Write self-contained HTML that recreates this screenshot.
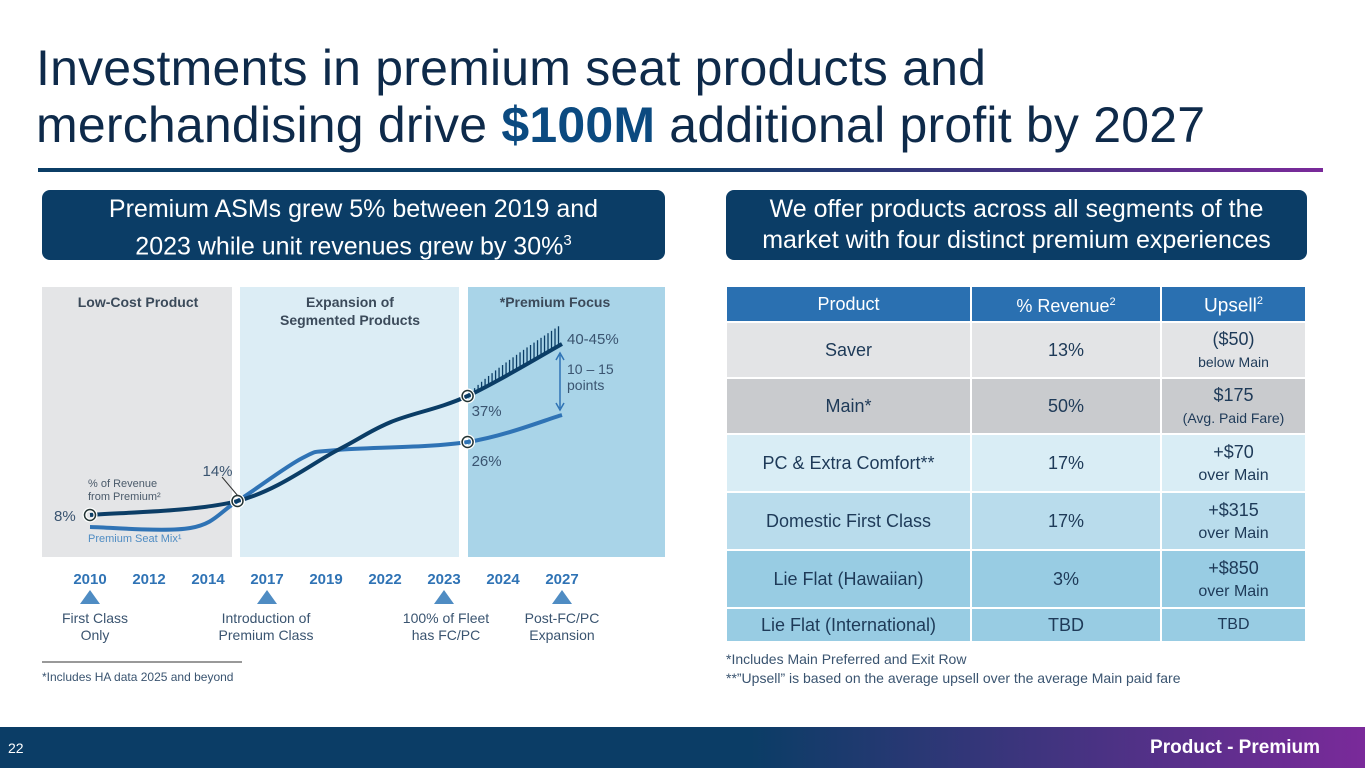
<!DOCTYPE html>
<html><head><meta charset="utf-8"><style>
*{margin:0;padding:0;box-sizing:border-box}
body{width:1365px;height:768px;position:relative;background:#fff;font-family:"Liberation Sans",sans-serif;overflow:hidden;color:#1d3a5c}
.a{position:absolute}
.t{font-size:50px;color:#0e2a4a;line-height:57px;left:36px;top:40px;letter-spacing:0.2px}
.pill{background:#0b3d66;color:#fff;border-radius:8px;text-align:center;font-size:25px;line-height:31px;padding-top:4px}
table{border-collapse:separate;border-spacing:2px;position:absolute;left:725px;top:285px;width:582px}
td{text-align:center;font-size:18px;color:#1e3a58;line-height:22px}
.sm{font-size:14px;line-height:18px}
</style></head><body>
<div class="a t">Investments in premium seat products and<br>merchandising drive <b style="color:#0b4a80">$100M</b> additional profit by 2027</div>
<div class="a" style="left:38px;top:168px;width:1285px;height:4px;background:linear-gradient(90deg,#0b3d66,#0b3d66 50%,#7a2a9a)"></div>
<div class="a pill" style="left:42px;top:190px;width:623px;height:70px">Premium ASMs grew 5% between 2019 and<br>2023 while unit revenues grew by 30%<sup style="font-size:15px">3</sup></div>
<div class="a pill" style="left:726px;top:190px;width:581px;height:70px">We offer products across all segments of the<br>market with four distinct premium experiences</div>

<svg class="a" style="left:0;top:0" width="700" height="700">
<rect x="42" y="287" width="190" height="270" fill="#e4e5e7"/>
<rect x="240" y="287" width="219" height="270" fill="#dcedf5"/>
<rect x="468" y="287" width="197" height="270" fill="#a9d4e8"/>
<g font-size="14" font-weight="bold" fill="#3b4a5a" text-anchor="middle">
<text x="138" y="307">Low-Cost Product</text>
<text x="350" y="307">Expansion of</text><text x="350" y="325">Segmented Products</text>
<text x="555" y="307">*Premium Focus</text></g>
<g id="hatch"></g>
<g id="lines"></g>
<g id="labels" font-size="15" fill="#3a5470"></g>
<text x="88" y="487" font-size="11" fill="#4a5a6a">% of Revenue</text>
<text x="88" y="500" font-size="11" fill="#4a5a6a">from Premium²</text>
<text x="88" y="542" font-size="11" fill="#4f8cc3">Premium Seat Mix¹</text>
<line x1="222" y1="477" x2="238" y2="496" stroke="#333" stroke-width="1"/>
<line x1="560" y1="355" x2="560" y2="408" stroke="#2f73b5" stroke-width="1.5"/>
<path d="M556,360 L560,353 L564,360 M556,403 L560,410 L564,403" fill="none" stroke="#2f73b5" stroke-width="1.5"/>
<text x="567" y="374" font-size="14" fill="#3a5470">10 – 15</text>
<text x="567" y="390" font-size="14" fill="#3a5470">points</text>
<g id="xaxis" font-size="15" font-weight="bold" fill="#2f73b5" text-anchor="middle"></g>
<g font-size="14" fill="#3a5470" text-anchor="middle">
<text x="95" y="623">First Class</text><text x="95" y="640">Only</text>
<text x="266" y="623">Introduction of</text><text x="266" y="640">Premium Class</text>
<text x="446" y="623">100% of Fleet</text><text x="446" y="640">has FC/PC</text>
<text x="562" y="623">Post-FC/PC</text><text x="562" y="640">Expansion</text></g>
<g fill="#4f8cc3"><path d="M80,604 L90,590 L100,604Z"/><path d="M257,604 L267,590 L277,604Z"/><path d="M434,604 L444,590 L454,604Z"/><path d="M552,604 L562,590 L572,604Z"/></g>
<line x1="42" y1="662" x2="242" y2="662" stroke="#333" stroke-width="1"/>
<text x="42" y="681" font-size="12" fill="#3a5470">*Includes HA data 2025 and beyond</text>
<text x="42" y="721" font-size="8" fill="#9aa5b0">Note: (1) AAG 10-K Filings / Annual Reports; (2) Air Group internal reporting</text>
</svg>

<table>
<tr style="height:34px;background:#2a70b1"><td style="color:#fff;width:243px">Product</td><td style="color:#fff;width:188px">% Revenue<sup style="font-size:11px">2</sup></td><td style="color:#fff;font-size:19px">Upsell<sup style="font-size:11px">2</sup></td></tr>
<tr style="height:54px;background:#e3e4e6"><td>Saver</td><td>13%</td><td>($50)<br><span class="sm">below Main</span></td></tr>
<tr style="height:54px;background:#c9cbce"><td>Main*</td><td>50%</td><td>$175<br><span class="sm">(Avg. Paid Fare)</span></td></tr>
<tr style="height:56px;background:#d9edf5"><td>PC &amp; Extra Comfort**</td><td>17%</td><td>+$70<br><span class="sm" style="font-size:16px">over Main</span></td></tr>
<tr style="height:56px;background:#b9dcec"><td>Domestic First Class</td><td>17%</td><td>+$315<br><span class="sm" style="font-size:16px">over Main</span></td></tr>
<tr style="height:56px;background:#98cce3"><td>Lie Flat (Hawaiian)</td><td>3%</td><td>+$850<br><span class="sm" style="font-size:16px">over Main</span></td></tr>
<tr style="height:32px;background:#98cce3"><td>Lie Flat (International)</td><td>TBD</td><td style="font-size:16px">TBD</td></tr>
</table>
<div class="a" style="left:726px;top:650px;font-size:14px;line-height:19px;color:#3a5470">*Includes Main Preferred and Exit Row<br>**”Upsell” is based on the average upsell over the average Main paid fare</div>

<div class="a" style="left:0;top:727px;width:1365px;height:41px;background:linear-gradient(90deg,#0b3d66,#0b3d66 55%,#7a2a9a)"></div>
<div class="a" style="left:8px;top:740px;font-size:14px;color:#fff">22</div>
<div class="a" style="right:45px;top:737px;font-size:19px;font-weight:bold;color:#fff">Product - Premium</div>

<script>
const years=["2010","2012","2014","2017","2019","2022","2023","2024","2027"];
const revX=[0,2.5,4.2,5.1,6.4,8];
const revVals=[6.75,10.25,23,30,36.5,49.5];
const seatX=[0,1.7,2.5,3.6,4.2,6.4,8];
const seatVals=[3.75,3.5,10.25,21,23,25,31.75];
const targetVals=[36.5,54.5];
const xs=i=>90+i*59;
const ys=v=>542-v*4;
const NS="http://www.w3.org/2000/svg";
function smooth(px,py){let d="M"+xs(px[0])+","+ys(py[0]);const P=px.map((x,i)=>[xs(x),ys(py[i])]);
for(let i=0;i<P.length-1;i++){const p0=P[i-1]||P[i],p1=P[i],p2=P[i+1],p3=P[i+2]||P[i+1];
d+=" C"+(p1[0]+(p2[0]-p0[0])/6)+","+(p1[1]+(p2[1]-p0[1])/6)+" "+(p2[0]-(p3[0]-p1[0])/6)+","+(p2[1]-(p3[1]-p1[1])/6)+" "+p2[0]+","+p2[1];}return d;}
const lines=document.getElementById('lines');
const hatch=document.getElementById('hatch');
for(let k=1;k<=26;k++){const t=k/27;const x=revX[4]+(revX[5]-revX[4])*t;
 const rv=revVals[4]+(revVals[5]-revVals[4])*t;const tv=targetVals[0]+(targetVals[1]-targetVals[0])*Math.pow(t,0.85);
 const l=document.createElementNS(NS,'line');
 
 
 l.setAttribute('x1',xs(x));l.setAttribute('x2',xs(x));l.setAttribute('y1',ys(rv));l.setAttribute('y2',ys(tv));
 l.setAttribute('stroke','#0b3d66');l.setAttribute('stroke-width','1.3');hatch.appendChild(l);}
const s=document.createElementNS(NS,'path');


s.setAttribute('d',smooth(seatX,seatVals));s.setAttribute('fill','none');s.setAttribute('stroke','#2f73b5');s.setAttribute('stroke-width','4');lines.appendChild(s);
const r=document.createElementNS(NS,'path');


r.setAttribute('d',smooth(revX,revVals));r.setAttribute('fill','none');r.setAttribute('stroke','#0b3d66');r.setAttribute('stroke-width','4');lines.appendChild(r);
const markers=[[revX[0],revVals[0]],[revX[1],revVals[1]],[revX[4],revVals[4]],[seatX[5],seatVals[5]]];
markers.forEach(m=>{const c=document.createElementNS(NS,'circle');
 
 
 c.setAttribute('cx',xs(m[0]));c.setAttribute('cy',ys(m[1]));c.setAttribute('r','5.5');c.setAttribute('fill','none');c.setAttribute('stroke','#fff');c.setAttribute('stroke-width','4');lines.appendChild(c);
 const c2=c.cloneNode();c2.setAttribute('stroke','#233');c2.setAttribute('stroke-width','1.5');lines.appendChild(c2);});
const lab=document.getElementById('labels');
const labs=[["8%",xs(revX[0])-36,ys(revVals[0])+6],["14%",xs(revX[1])-35,ys(revVals[1])-25],["37%",xs(revX[4])+4,ys(revVals[4])+20],["26%",xs(seatX[5])+4,ys(seatVals[5])+24],["40-45%",xs(8)+5,ys(targetVals[1])+20]];
labs.forEach(a=>{const t=document.createElementNS(NS,'text');
 
 
 t.setAttribute('x',a[1]);t.setAttribute('y',a[2]);t.textContent=a[0];lab.appendChild(t);});
const xa=document.getElementById('xaxis');
years.forEach((y,i)=>{const t=document.createElementNS(NS,'text');
 
 
 t.setAttribute('x',xs(i));t.setAttribute('y',584);t.textContent=y;xa.appendChild(t);});
</script>
</body></html>
